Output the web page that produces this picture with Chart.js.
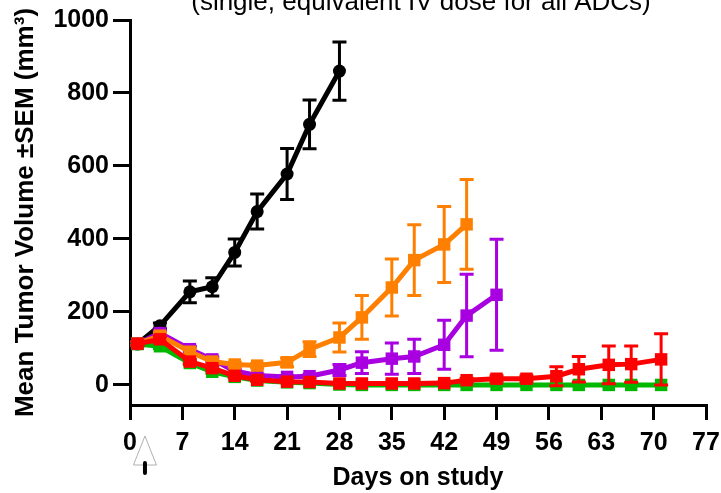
<!DOCTYPE html>
<html>
<head>
<meta charset="utf-8">
<script src="https://cdn.jsdelivr.net/npm/chart.js@4.4.1/dist/chart.umd.min.js"></script>
<style>
  body { margin: 0; background: #fff; }
  #c { display: block; }
</style>
</head>
<body>
<canvas id="c" width="721" height="493"></canvas>
<script>
// study days
var days = [1, 4, 8, 11, 14, 17, 21, 24, 28, 31, 35, 38, 42, 45, 49, 53, 57, 60, 64, 67, 71];
var xTicks = [0, 7, 14, 21, 28, 35, 42, 49, 56, 63, 70, 77];
var yTicks = [0, 200, 400, 600, 800, 1000];
var doseDay = 2;

// mean tumor volume and SEM per group
var blackMean = [112, 162, 255, 269, 363, 475, 578, 714, 860];
var blackSem = [5, 8, 30, 25, 37, 48, 70, 67, 80];
var orangeMean = [113, 135, 91, 64, 56, 53, 62, 98, 130, 185, 267, 342, 385, 440];
var orangeSem = [5, 8, 8, 7, 6, 6, 12, 20, 40, 60, 78, 97, 104, 123];
var purpleMean = [113, 142, 98, 70, 38, 26, 22, 24, 41, 61, 72, 78, 110, 190, 247];
var purpleSem = [5, 8, 8, 7, 5, 4, 4, 5, 15, 30, 43, 47, 67, 113, 152];
var redMean = [113, 125, 64, 46, 25, 14, 9, 8, 4, 4, 4, 4, 5, 13, 17, 17, 24, 43, 55, 57, 70];
var redSem = [5, 8, 6, 5, 4, 3, 2, 2, 1, 1, 1, 1, 2, 5, 8, 8, 26, 35, 52, 50, 70];
var greenMean = [112, 106, 60, 36, 22, 12, 7, 5, 1, 0, 0, 0, 0, 0, 0, 0, 0, 0, 0, 0, 0];
var greenSem = [4, 6, 5, 4, 3, 2, 1, 1, 0, 0, 0, 0, 0, 0, 0, 0, 0, 0, 0, 0, 0];

var FONT = '"Liberation Sans", Arial, sans-serif';

function pts(mean) {
    return mean.map(function (v, i) { return { x: days[i], y: v }; });
}

function series(mean, sem, color, shape, size) {
    return {
        data: pts(mean),
        sem: sem,
        borderColor: color,
        backgroundColor: color,
        borderWidth: 5,
        pointStyle: shape,
        pointRadius: size,
        pointBorderWidth: 0,
        tension: 0
    };
}

// error bars, drawn right after each dataset
var errorBars = {
    id: 'errorBars',
    afterDatasetDraw: function (chart, args) {
        var ds = chart.data.datasets[args.index];
        var ctx = chart.ctx, y = chart.scales.y;
        ctx.save();
        ctx.strokeStyle = ds.borderColor;
        ctx.lineWidth = 3;
        args.meta.data.forEach(function (p, i) {
            var s = ds.sem[i];
            if (!s) return;
            var v = ds.data[i].y;
            var top = y.getPixelForValue(v + s), bot = y.getPixelForValue(v - s);
            ctx.beginPath();
            ctx.moveTo(p.x, top); ctx.lineTo(p.x, bot);
            ctx.moveTo(p.x - 7, top); ctx.lineTo(p.x + 7, top);
            ctx.moveTo(p.x - 7, bot); ctx.lineTo(p.x + 7, bot);
            ctx.stroke();
        });
        ctx.restore();
    }
};

// clipped subtitle at top and dosing arrow under the x axis
var extras = {
    id: 'extras',
    afterDraw: function (chart) {
        var ctx = chart.ctx;
        ctx.save();
        ctx.fillStyle = '#000';
        ctx.font = '26px ' + FONT;
        ctx.textAlign = 'center';
        ctx.textBaseline = 'alphabetic';
        ctx.fillText('(single, equivalent IV dose for all ADCs)', 421, 10);

        var ax = chart.scales.x.getPixelForValue(doseDay);
        ctx.strokeStyle = '#b0b0b0';
        ctx.lineWidth = 1;
        ctx.fillStyle = '#fff';
        ctx.beginPath();
        ctx.moveTo(ax, 436);
        ctx.lineTo(ax + 11.5, 465);
        ctx.lineTo(ax - 11.5, 465);
        ctx.closePath();
        ctx.fill();
        ctx.stroke();
        ctx.strokeStyle = '#000';
        ctx.lineWidth = 4;
        ctx.lineCap = 'round';
        ctx.beginPath();
        ctx.moveTo(ax, 463);
        ctx.lineTo(ax, 473);
        ctx.stroke();
        ctx.restore();
    }
};

var chart = new Chart(document.getElementById('c'), {
    type: 'line',
    data: {
        datasets: [
            series(redMean, redSem, '#ff0000', 'rect', 8.8),
            series(greenMean, greenSem, '#00b800', 'rect', 8.8),
            series(orangeMean, orangeSem, '#ff8000', 'rect', 8.8),
            series(purpleMean, purpleSem, '#a800e0', 'rect', 8.8),
            series(blackMean, blackSem, '#000000', 'circle', 6.5)
        ]
    },
    options: {
        responsive: false,
        animation: false,
        layout: { padding: { left: 0, right: 15, top: 20, bottom: 0 } },
        plugins: { legend: { display: false }, tooltip: { enabled: false } },
        scales: {
            x: {
                type: 'linear',
                min: 0,
                max: 77,
                afterBuildTicks: function (s) { s.ticks = xTicks.map(function (v) { return { value: v }; }); },
                afterFit: function (s) { s.height = 88; s.paddingLeft = 0; s.paddingRight = 0; },
                grid: { drawOnChartArea: false, drawTicks: true, tickLength: 15, lineWidth: 3, color: '#000' },
                border: { display: true, width: 3, color: '#000' },
                ticks: { color: '#000', font: { family: FONT, size: 25, weight: 'bold' }, padding: 8, maxRotation: 0, autoSkip: false,
                    callback: function (v) { return String(v); } },
                title: { display: true, text: 'Days on study', color: '#000', font: { family: FONT, size: 25, weight: 'bold' }, padding: { top: 6, bottom: 0 } }
            },
            y: {
                min: -55,
                max: 1000,
                afterBuildTicks: function (s) { s.ticks = yTicks.map(function (v) { return { value: v }; }); },
                afterFit: function (s) { s.width = 130; s.paddingTop = 0; s.paddingBottom = 0; },
                grid: { drawOnChartArea: false, drawTicks: true, tickLength: 17, lineWidth: 3, color: '#000' },
                border: { display: true, width: 3, color: '#000' },
                ticks: { color: '#000', font: { family: FONT, size: 25, weight: 'bold' }, padding: 4,
                    callback: function (v) { return String(v); } },
                title: { display: true, text: 'Mean Tumor Volume ±SEM (mm³)', color: '#000', font: { family: FONT, size: 26, weight: 'bold' }, padding: { top: 10, bottom: 0 } }
            }
        }
    },
    plugins: [errorBars, extras]
});
</script>
</body>
</html>
